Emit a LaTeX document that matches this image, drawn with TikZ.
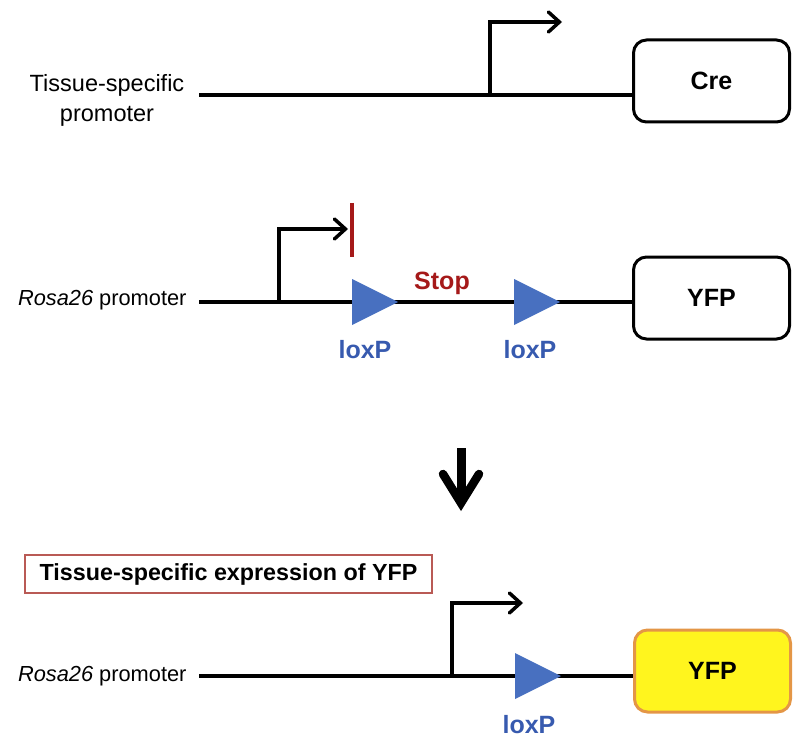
\documentclass[tikz,border=0pt]{standalone}
\usepackage{fontspec}
\setmainfont{Liberation Sans}
\usetikzlibrary{arrows.meta}
\definecolor{stopred}{RGB}{165,25,25}
\definecolor{loxblue}{RGB}{55,90,175}
\definecolor{trifill}{RGB}{72,112,192}
\definecolor{boxred}{RGB}{185,90,85}
\definecolor{yfpfill}{RGB}{255,245,30}
\definecolor{yfpdraw}{RGB}{228,150,70}
\begin{document}
\begin{tikzpicture}[x=1pt,y=-1pt,
  dna/.style={line width=4pt},
  genebox/.style={draw, line width=3pt, rounded corners=13pt, minimum width=156pt, minimum height=82pt, inner sep=0pt, font=\fontsize{25}{28}\selectfont\bfseries},
  promarrow/.style={line width=3.5pt, line cap=round, -{Straight Barb[length=11pt,width=20pt,line cap=round]}},
  plain/.style={font=\fontsize{23.5}{30}\selectfont},
  rosalabel/.style={font=\fontsize{21.8}{26}\selectfont, anchor=east},
  loxlabel/.style={font=\fontsize{25}{28}\selectfont\bfseries, text=loxblue},
  loxtri/.style={fill=trifill, draw=none}
]
\useasboundingbox (0,0) rectangle (800,746);

% ---------- top row ----------
\node[plain, align=center] (tsp) at (107,100) {Tissue-specific\\promoter};
\coordinate (l1s) at (199,95);
\node[genebox, anchor=west] (cre) at (632,81) {Cre};
\draw[dna] (l1s) -- (l1s -| cre.west);
\coordinate (p1a) at (490,95);
\coordinate (p1b) at (490,22);
\coordinate (p1c) at (562,22);
\draw[promarrow] (p1a) -- (p1b) -- (p1c);

% ---------- middle row ----------
\node[rosalabel] (rosa1) at (190,300) {\textit{Rosa26} promoter};
\coordinate (l2s) at (199,302);
\node[genebox, anchor=west] (yfp1) at (632,298) {YFP};
\draw[dna] (l2s) -- (l2s -| yfp1.west);
\coordinate (p2a) at (279,302);
\coordinate (p2b) at (279,229);
\coordinate (p2c) at (348,229);
\draw[promarrow] (p2a) -- (p2b) -- (p2c);
\coordinate (bar1) at (352,203);
\coordinate (bar2) at (352,257);
\draw[stopred, line width=3.5pt] (bar1) -- (bar2);
\fill[loxtri] (352,279) -- (398,302) -- (352,325) -- cycle;
\fill[loxtri] (514,279) -- (560,302) -- (514,325) -- cycle;
\node[font=\fontsize{25}{28}\selectfont\bfseries, text=stopred] (stop) at (442,283) {Stop};
\node[loxlabel] (lox1) at (365,350) {loxP};
\node[loxlabel] (lox2) at (530,350) {loxP};

% ---------- down arrow ----------
\draw[line width=9pt] (461,448) -- (461,498);
\draw[line width=8.5pt, line cap=round, line join=miter] (443,474) -- (461,503) -- (479,474);

% ---------- bottom row ----------
\node[draw=boxred, line width=2.5pt, minimum width=407pt, minimum height=38pt, inner sep=0pt,
      font=\fontsize{23.3}{27}\selectfont\bfseries] (banner) at (228.5,574) {Tissue-specific expression of YFP};
\node[rosalabel] (rosa2) at (190,676) {\textit{Rosa26} promoter};
\coordinate (l3s) at (199,676);
\node[genebox, anchor=west, fill=yfpfill, draw=yfpdraw] (yfp2) at (633,671) {YFP};
\draw[dna] (l3s) -- (l3s -| yfp2.west);
\coordinate (p3a) at (452,676);
\coordinate (p3b) at (452,603);
\coordinate (p3c) at (523,603);
\draw[promarrow] (p3a) -- (p3b) -- (p3c);
\fill[loxtri] (515,653) -- (561,676) -- (515,699) -- cycle;
\node[loxlabel] (lox3) at (529,725) {loxP};
\end{tikzpicture}
\end{document}
